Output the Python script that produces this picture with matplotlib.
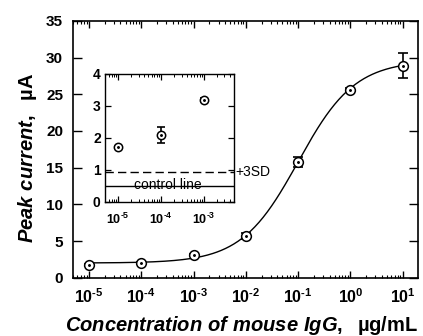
import numpy as np
import matplotlib
matplotlib.use("Agg")
import matplotlib.pyplot as plt
from matplotlib.ticker import LogLocator, NullFormatter, MultipleLocator, FuncFormatter

plt.rcParams['font.family'] = ['Liberation Sans', 'DejaVu Sans']
plt.rcParams['mathtext.fontset'] = 'custom'
plt.rcParams['mathtext.rm'] = 'Liberation Sans:bold'
plt.rcParams['mathtext.bf'] = 'Liberation Sans:bold'
plt.rcParams['mathtext.it'] = 'Liberation Sans:italic:bold'
plt.rcParams['mathtext.default'] = 'bf'

# dados principais
conc = [1e-5, 1e-4, 1e-3, 1e-2, 1e-1, 1e0, 1e1]
current = [1.75, 2.05, 3.1, 5.7, 15.8, 25.6, 28.9]
current_err = [0.1, 0.15, 0.15, 0.4, 0.7, 0.3, 1.75]

# parametros do ajuste logistico
fit_bottom = 2.0
fit_top = 29.6
fit_ec50 = 0.1
fit_slope = 0.8

# dados do inset
inset_conc = [1e-5, 1e-4, 1e-3]
inset_current = [1.73, 2.1, 3.19]
inset_err = [0.03, 0.25, 0.07]
control_line = 0.51
sd3_line = 0.92


def pow10_label(v, p):
    e = int(round(np.log10(v)))
    if e < 0:
        return r'$\mathbf{10^{\text{-}%d}}$' % (-e)
    return r'$\mathbf{10^{%d}}$' % e


pow10 = FuncFormatter(pow10_label)

fig = plt.figure(figsize=(4.23, 3.36), dpi=100)
ax = fig.add_axes([0.172, 0.1735, 0.816, 0.7645])

xfit = np.logspace(-5, 1, 300)
yfit = fit_top + (fit_bottom - fit_top) / (1 + (xfit / fit_ec50) ** fit_slope)
ax.plot(xfit, yfit, color='black', lw=1.0)


def draw_points(a, x, y, e, ms=7, cap=3.5):
    a.errorbar(x, y, yerr=e, fmt='none', ecolor='black', elinewidth=1.2,
               capsize=cap, capthick=1.2, zorder=3)
    a.plot(x, y, 'o', ms=ms, mfc='white', mec='black', mew=1.1, ls='none', zorder=4)
    a.plot(x, y, '.', ms=2.2, color='black', ls='none', zorder=5)


draw_points(ax, conc, current, current_err)

ax.set_xscale('log')
ax.set_xlim(10 ** -5.31, 10 ** 1.29)
ax.set_ylim(0, 35)
ax.xaxis.set_major_locator(LogLocator(base=10, numticks=20))
ax.xaxis.set_major_formatter(pow10)
ax.xaxis.set_minor_locator(LogLocator(base=10, subs=np.arange(2, 10), numticks=20))
ax.xaxis.set_minor_formatter(NullFormatter())
ax.yaxis.set_major_locator(MultipleLocator(5))
ax.tick_params(which='both', direction='in', top=True, right=True)
ax.tick_params(axis='x', which='major', length=5, width=1.0, pad=7, labelsize=11.5)
ax.tick_params(axis='x', which='minor', length=2.5, width=0.8)
ax.tick_params(axis='y', which='major', length=6.5, width=1.0, pad=7, labelsize=11)
for lab in ax.get_yticklabels():
    lab.set_fontweight('bold')
for s in ax.spines.values():
    s.set_linewidth(1.2)

ax.set_ylabel(r'$\mathit{Peak\ current,}$  µA', fontsize=14.5, fontweight='bold')
ax.yaxis.set_label_coords(-0.098, 0.465)
ax.set_xlabel(r'$\mathit{Concentration\ of\ mouse\ IgG,}$  µg/mL', fontsize=14.5,
              fontweight='bold')
ax.xaxis.set_label_coords(0.49, -0.14)

# inset
axi = fig.add_axes([0.248, 0.399, 0.305, 0.381])
draw_points(axi, inset_conc, inset_current, inset_err, ms=6, cap=3)
axi.axhline(sd3_line, color='black', lw=1.0, ls=(0, (6, 3)))
axi.axhline(control_line, color='black', lw=1.0)
axi.text(1.01, sd3_line, '+3SD', transform=axi.get_yaxis_transform(),
         ha='left', va='center', fontsize=10, clip_on=False)
axi.text(10 ** -3.85, control_line + 0.03, 'control line', ha='center', va='center',
         fontsize=10)
axi.set_xscale('log')
axi.set_xlim(10 ** -5.31, 10 ** -2.3)
axi.set_ylim(0, 4)
axi.xaxis.set_major_locator(LogLocator(base=10, numticks=20))
axi.xaxis.set_major_formatter(pow10)
axi.xaxis.set_minor_locator(LogLocator(base=10, subs=np.arange(2, 10), numticks=20))
axi.xaxis.set_minor_formatter(NullFormatter())
axi.yaxis.set_major_locator(MultipleLocator(1))
axi.tick_params(which='both', direction='in', top=True, right=True)
axi.tick_params(axis='x', which='major', length=4, width=0.9, pad=7, labelsize=9)
axi.tick_params(axis='x', which='minor', length=2, width=0.7)
axi.tick_params(axis='y', which='major', length=4.5, width=0.9, pad=3, labelsize=10)
for lab in axi.get_yticklabels():
    lab.set_fontweight('bold')
for s in axi.spines.values():
    s.set_linewidth(1.0)

fig.savefig('out.png', dpi=100)
